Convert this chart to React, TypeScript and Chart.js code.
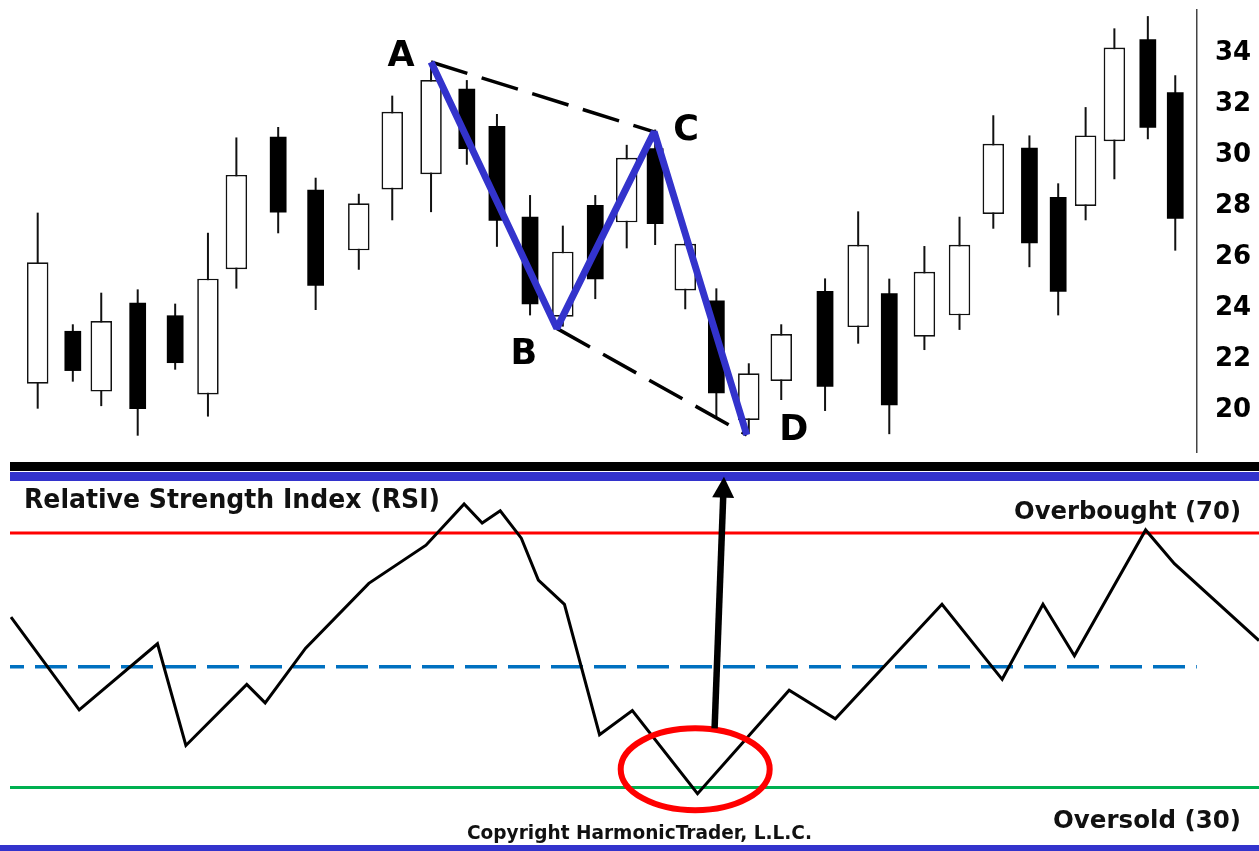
import React, { useEffect, useRef } from 'react';
import { Chart, registerables } from 'chart.js';

Chart.register(...registerables);

// ---------- Price panel data ----------
const candleTimes = [0, 1.05, 1.9, 2.99, 4.11, 5.09, 5.94, 7.19, 8.31, 9.6, 10.6, 11.76, 12.83, 13.73, 14.72, 15.7, 16.67, 17.61, 18.46, 19.36, 20.29, 21.26, 22.23, 23.54, 24.53, 25.46, 26.51, 27.56, 28.57, 29.65, 30.51, 31.33, 32.19, 33.19, 34.01];
const openPrices = [21.03, 23.1, 20.72, 24.21, 23.71, 20.61, 25.52, 30.72, 28.64, 26.26, 28.65, 29.25, 32.6, 31.14, 27.58, 23.66, 28.04, 27.36, 30.27, 24.69, 24.29, 19.61, 21.14, 24.67, 23.25, 24.58, 22.87, 23.71, 27.69, 30.29, 28.35, 28.0, 30.54, 34.54, 32.46];
const highPrices = [27.74, 23.36, 24.6, 24.73, 24.17, 26.95, 30.69, 31.1, 29.11, 28.48, 32.33, 33.45, 32.94, 31.61, 28.43, 27.23, 28.43, 30.4, 31.0, 26.82, 24.77, 21.83, 23.36, 25.16, 27.79, 25.15, 26.43, 27.58, 31.56, 30.77, 28.89, 31.88, 34.97, 35.45, 33.13];
const lowPrices = [20.05, 21.11, 20.15, 18.99, 21.58, 19.74, 24.76, 26.93, 23.92, 25.5, 27.44, 27.76, 29.62, 26.4, 23.71, 23.27, 24.35, 26.34, 26.47, 23.95, 19.67, 19.1, 20.39, 19.96, 22.6, 19.05, 22.35, 23.14, 27.11, 25.6, 23.71, 27.44, 29.05, 30.62, 26.25];
const closePrices = [25.79, 21.53, 23.49, 20.04, 21.84, 25.15, 29.22, 27.75, 24.87, 28.11, 31.7, 32.94, 30.24, 27.42, 24.15, 26.21, 25.13, 29.89, 27.29, 26.52, 20.65, 21.44, 22.98, 20.91, 26.48, 20.18, 25.42, 26.48, 30.44, 26.54, 24.64, 30.77, 34.22, 31.07, 27.5];

const priceTicks = [20, 22, 24, 26, 28, 30, 32, 34];
const priceRange = [18.35, 35.69];
const timeRange = [-1.127, 34.66];

// ABCD pattern pivots
const abcdLabels = ['A', 'B', 'C', 'D'];
const abcdTimes = [11.76, 15.52, 18.43, 21.2];
const abcdPrices = [33.65, 23.2, 30.91, 19.02];

// ---------- RSI panel data ----------
const rsiTimes = [-0.8, 1.24, 3.58, 4.43, 6.25, 6.8, 8.01, 9.9, 11.61, 12.75, 13.29, 13.83, 14.46, 14.97, 15.75, 16.8, 17.78, 19.73, 22.47, 23.85, 27.04, 28.84, 30.06, 31.0, 33.13, 33.99, 36.52];
const rsiValues = [56.8, 42.2, 52.6, 36.6, 46.2, 43.3, 51.9, 62.1, 68.1, 74.6, 71.6, 73.5, 69.2, 62.6, 58.8, 38.3, 42.1, 29.0, 45.3, 40.8, 58.8, 47.0, 58.8, 50.7, 70.5, 65.2, 53.1];
const rsiLevels = [70, 30, 49]; // overbought, oversold, midline
const rsiRange = [20, 81.5];
const rsiTimeRange = [-0.83, 36.52];

// annotations (time, value)
const ellipseCenter = [19.66, 32.86];
const arrowFrom = [20.24, 39.3];
const arrowTo = [20.52, 78.87];

const rsiTitle = 'Relative Strength Index (RSI)';
const overboughtText = 'Overbought (70)';
const oversoldText = 'Oversold (30)';
const copyrightText = 'Copyright HarmonicTrader, L.L.C.';

const FONT = '"DejaVu Sans", Verdana, sans-serif';
const PATTERN_BLUE = '#3333cc';

Chart.defaults.font.family = FONT;

const labelOffsets = [
  [-30, 4],
  [-33, 36],
  [32, 8],
  [47, 5],
];

const abcdLabelPlugin = {
  id: 'abcdLabels',
  afterDatasetsDraw(chart: any) {
    const { ctx, scales } = chart;
    ctx.save();
    ctx.fillStyle = '#000';
    ctx.font = `bold 35px ${FONT}`;
    ctx.textAlign = 'center';
    ctx.textBaseline = 'alphabetic';
    abcdLabels.forEach((lab, i) => {
      const x = scales.x.getPixelForValue(abcdTimes[i]);
      const y = scales.y.getPixelForValue(abcdPrices[i]);
      ctx.fillText(lab, x + labelOffsets[i][0], y + labelOffsets[i][1]);
    });
    ctx.restore();
  },
};

function fitText(ctx: any, text: string, x: number, y: number, width: number) {
  const w = ctx.measureText(text).width;
  ctx.save();
  ctx.translate(x, y);
  ctx.scale(width / w, 1);
  ctx.fillText(text, 0, 0);
  ctx.restore();
}

const rsiDecorPlugin = {
  id: 'rsiDecor',
  afterDraw(chart: any) {
    const { ctx, scales, width, height } = chart;
    ctx.save();
    // separator bands
    ctx.fillStyle = '#000';
    ctx.fillRect(10, 2, width - 10, 9);
    ctx.fillStyle = PATTERN_BLUE;
    ctx.fillRect(10, 12, width - 10, 9);
    ctx.fillRect(0, height - 6, width, 6);

    // texts
    ctx.fillStyle = '#111';
    ctx.textBaseline = 'alphabetic';
    ctx.textAlign = 'left';
    ctx.font = `bold 26px ${FONT}`;
    fitText(ctx, rsiTitle, 24, 48, 416);
    ctx.font = `bold 24px ${FONT}`;
    fitText(ctx, overboughtText, 1014, 59, 227);
    fitText(ctx, oversoldText, 1053, 368, 188);
    ctx.font = `bold 19px ${FONT}`;
    fitText(ctx, copyrightText, 467, 379, 345);

    // ellipse
    const ex = scales.x.getPixelForValue(ellipseCenter[0]);
    const ey = scales.y.getPixelForValue(ellipseCenter[1]);
    ctx.beginPath();
    ctx.ellipse(ex, ey, 74.5, 41, 0, 0, Math.PI * 2);
    ctx.lineWidth = 6;
    ctx.strokeStyle = '#ff0000';
    ctx.stroke();

    // arrow
    const ax = scales.x.getPixelForValue(arrowFrom[0]);
    const ay = scales.y.getPixelForValue(arrowFrom[1]);
    const bx = scales.x.getPixelForValue(arrowTo[0]);
    const by = scales.y.getPixelForValue(arrowTo[1]);
    const len = Math.hypot(bx - ax, by - ay);
    const ux = (bx - ax) / len;
    const uy = (by - ay) / len;
    const headLen = 21;
    const headHalf = 11;
    const hx = bx - ux * headLen;
    const hy = by - uy * headLen;
    ctx.beginPath();
    ctx.moveTo(ax, ay);
    ctx.lineTo(hx + ux * 2, hy + uy * 2);
    ctx.lineWidth = 6.5;
    ctx.strokeStyle = '#000';
    ctx.lineCap = 'butt';
    ctx.stroke();
    ctx.beginPath();
    ctx.moveTo(bx, by);
    ctx.lineTo(hx - uy * headHalf, hy + ux * headHalf);
    ctx.lineTo(hx + uy * headHalf, hy - ux * headHalf);
    ctx.closePath();
    ctx.fillStyle = '#000';
    ctx.fill();
    ctx.restore();
  },
};

function buildPriceConfig(): any {
  const upBodies: any[] = [];
  const downBodies: any[] = [];
  const wicks: any[] = [];
  candleTimes.forEach((t, i) => {
    const o = openPrices[i];
    const c = closePrices[i];
    wicks.push({ x: t, y: [lowPrices[i], highPrices[i]] });
    if (c >= o) upBodies.push({ x: t, y: [o, c] });
    else downBodies.push({ x: t, y: [c, o] });
  });
  const pivots = abcdTimes.map((t, i) => ({ x: t, y: abcdPrices[i] }));
  const barCommon = {
    type: 'bar',
    grouped: false,
    barPercentage: 1,
    categoryPercentage: 1,
    borderSkipped: false,
  };
  return {
    type: 'bar',
    data: {
      datasets: [
        {
          type: 'line',
          label: 'ABCD',
          data: pivots,
          borderColor: PATTERN_BLUE,
          borderWidth: 7,
          pointRadius: 0,
          borderJoinStyle: 'bevel',
          tension: 0,
          order: 0,
        },
        {
          type: 'line',
          label: 'A-C',
          data: [pivots[0], pivots[2]],
          borderColor: '#000',
          borderWidth: 3.5,
          borderDash: [38, 15],
          pointRadius: 0,
          order: 1,
        },
        {
          type: 'line',
          label: 'B-D',
          data: [pivots[1], pivots[3]],
          borderColor: '#000',
          borderWidth: 3.5,
          borderDash: [38, 15],
          pointRadius: 0,
          order: 1,
        },
        {
          ...barCommon,
          label: 'Up',
          data: upBodies,
          backgroundColor: '#ffffff',
          borderColor: '#111111',
          borderWidth: 1.7,
          maxBarThickness: 21.5,
          inflateAmount: 0,
          order: 2,
        },
        {
          ...barCommon,
          label: 'Down',
          data: downBodies,
          backgroundColor: '#000000',
          borderWidth: 0,
          maxBarThickness: 16.7,
          inflateAmount: 0,
          order: 2,
        },
        {
          ...barCommon,
          label: 'Wick',
          data: wicks,
          backgroundColor: '#111111',
          borderWidth: 0,
          maxBarThickness: 2,
          inflateAmount: 0,
          order: 3,
        },
      ],
    },
    options: {
      responsive: false,
      animation: false,
      events: [],
      layout: { padding: { top: 10, bottom: 8, left: 0, right: 6 } },
      plugins: { legend: { display: false }, tooltip: { enabled: false } },
      scales: {
        x: {
          type: 'linear',
          min: timeRange[0],
          max: timeRange[1],
          offset: false,
          display: false,
          grid: { display: false },
        },
        y: {
          type: 'linear',
          position: 'right',
          min: priceRange[0],
          max: priceRange[1],
          beginAtZero: false,
          grid: { display: false, drawTicks: false },
          border: { display: true, color: '#444', width: 1.5 },
          afterBuildTicks: (axis: any) => {
            axis.ticks = priceTicks.map((v) => ({ value: v }));
          },
          afterFit: (axis: any) => {
            axis.width = 56;
            axis.paddingTop = 0;
            axis.paddingBottom = 0;
          },
          ticks: {
            color: '#000',
            padding: 18,
            font: { family: FONT, size: 26, weight: 'bold' },
            callback: (v: any) => String(v),
          },
        },
      },
    },
    plugins: [abcdLabelPlugin],
  };
}

function buildRsiConfig(): any {
  const levelLine = (value: number, endTime: number) => [
    { x: rsiTimeRange[0], y: value },
    { x: endTime, y: value },
  ];
  return {
    type: 'line',
    data: {
      datasets: [
        {
          label: 'RSI',
          data: rsiTimes.map((t, i) => ({ x: t, y: rsiValues[i] })),
          borderColor: '#000',
          borderWidth: 3,
          pointRadius: 0,
          tension: 0,
          borderJoinStyle: 'miter',
          order: 0,
        },
        {
          label: 'Overbought',
          data: levelLine(rsiLevels[0], rsiTimeRange[1]),
          borderColor: '#ff0000',
          borderWidth: 3,
          pointRadius: 0,
          order: 1,
        },
        {
          label: 'Oversold',
          data: levelLine(rsiLevels[1], rsiTimeRange[1]),
          borderColor: '#00b050',
          borderWidth: 3,
          pointRadius: 0,
          order: 1,
        },
        {
          label: 'Midline',
          data: levelLine(rsiLevels[2], timeRange[1]),
          borderColor: '#0070c0',
          borderWidth: 3.5,
          borderDash: [32, 11],
          borderDashOffset: 18,
          pointRadius: 0,
          order: 1,
        },
      ],
    },
    options: {
      responsive: false,
      animation: false,
      events: [],
      layout: { padding: { top: 0, bottom: 0, left: 10, right: 0 } },
      plugins: { legend: { display: false }, tooltip: { enabled: false } },
      scales: {
        x: { type: 'linear', min: rsiTimeRange[0], max: rsiTimeRange[1], display: false },
        y: { type: 'linear', min: rsiRange[0], max: rsiRange[1], display: false },
      },
    },
    plugins: [rsiDecorPlugin],
  };
}

export default function App() {
  const topRef = useRef<HTMLCanvasElement>(null);
  const rsiRef = useRef<HTMLCanvasElement>(null);

  useEffect(() => {
    const top = new Chart(topRef.current as HTMLCanvasElement, buildPriceConfig());
    const rsi = new Chart(rsiRef.current as HTMLCanvasElement, buildRsiConfig());
    return () => {
      top.destroy();
      rsi.destroy();
    };
  }, []);

  return (
    <div
      style={{
        position: 'absolute',
        left: 0,
        top: 0,
        width: 1259,
        height: 851,
        background: '#fff',
        overflow: 'hidden',
      }}
    >
      <canvas ref={topRef} width={1259} height={460} style={{ position: 'absolute', left: 0, top: 0 }} />
      <canvas ref={rsiRef} width={1259} height={391} style={{ position: 'absolute', left: 0, top: 460 }} />
    </div>
  );
}
